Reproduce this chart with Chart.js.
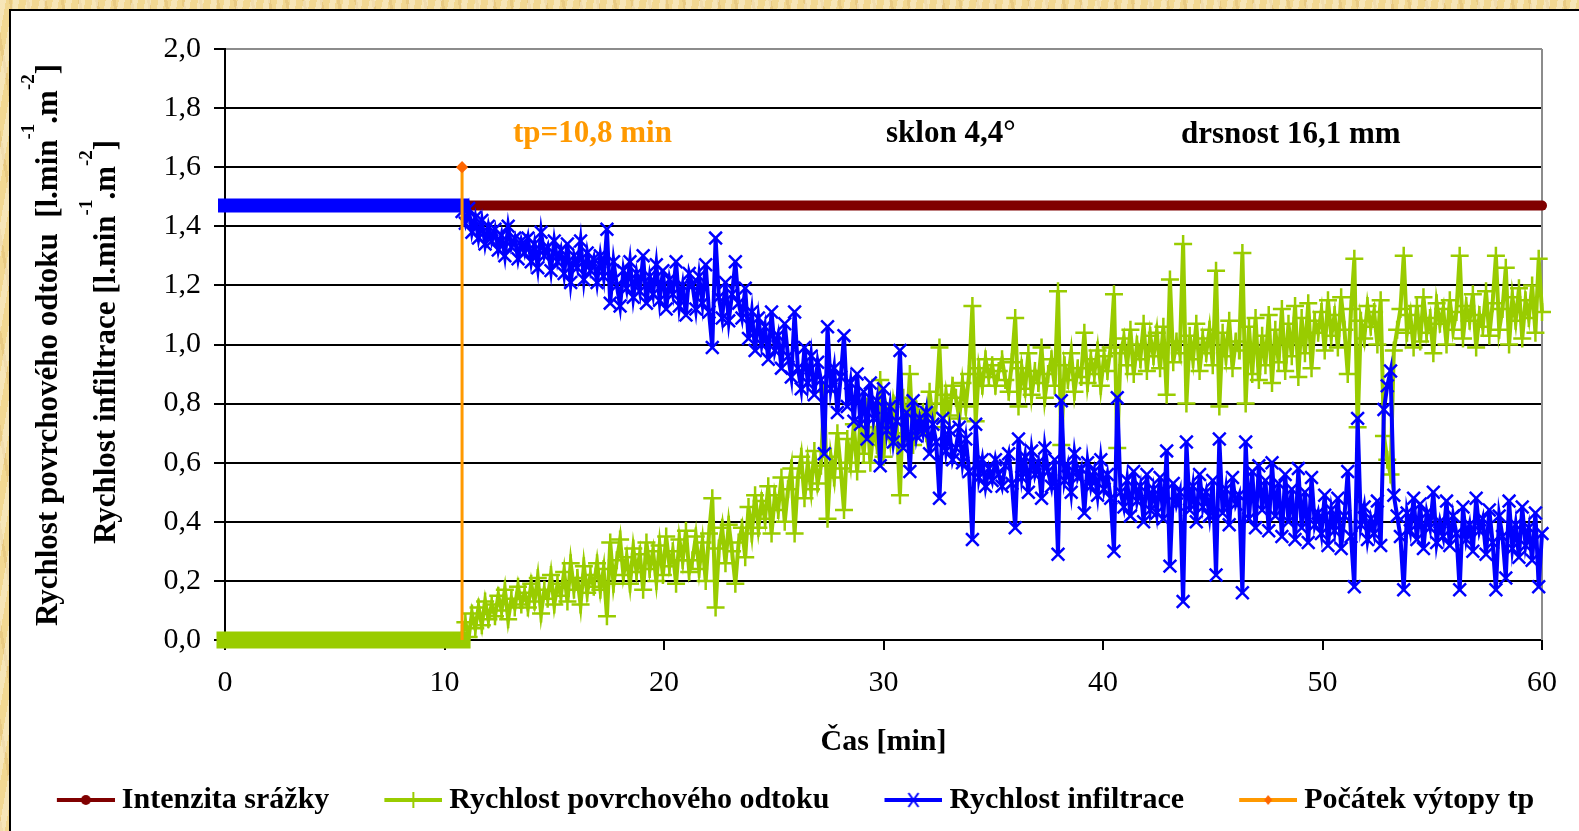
<!DOCTYPE html>
<html lang="cs">
<head>
<meta charset="utf-8">
<title>Rychlost povrchového odtoku a infiltrace</title>
<script src="https://cdn.jsdelivr.net/npm/chart.js@4.4.1/dist/chart.umd.min.js"></script>
<style>
    html, body { margin: 0; padding: 0; width: 1579px; height: 831px; overflow: hidden; }
    body {
        background-color: #f2d892;
        background-image:
            repeating-linear-gradient(100deg, rgba(255,255,255,0.35) 0 6px, rgba(255,255,255,0) 6px 13px),
            repeating-linear-gradient(80deg, rgba(190,140,60,0.18) 0 3px, rgba(190,140,60,0) 3px 17px);
    }
    #panel { position: absolute; left: 9px; top: 9px; right: 0; bottom: 0; background: #fff; border-left: 2px solid #000; border-top: 2px solid #000; }
    #wrap { position: absolute; left: 0; top: 0; width: 1579px; height: 831px; }
</style>
</head>
<body>
<div id="panel"></div>
<div id="wrap"><canvas id="chart" width="1579" height="831"></canvas></div>
<script>
// čas počátku výtopy a krok měření po něm [min]
const tp = 10.8;
const dt = 0.15;
const tpMarkerTop = 1.6;

// intenzita srážky
const rainTime = [0, 60];
const rainRate = [1.47, 1.47];

// před počátkem výtopy (vše infiltruje)
const preTime = [0, 10.8];
const preRunoff = [0, 0];
const preInfiltration = [1.47, 1.47];

// rychlost povrchového odtoku od tp, krok dt
const runoff = [
    0.02, 0.06, 0.01, 0.09, 0.04, 0.11, 0.05, 0.13, 0.07, 0.12,
    0.08, 0.15, 0.10, 0.17, 0.07, 0.14, 0.11, 0.18, 0.12, 0.16,
    0.11, 0.19, 0.13, 0.21, 0.09, 0.17, 0.14, 0.22, 0.12, 0.19,
    0.15, 0.23, 0.13, 0.26, 0.17, 0.21, 0.12, 0.25, 0.16, 0.22,
    0.18, 0.26, 0.17, 0.24, 0.08, 0.33, 0.19, 0.27, 0.34, 0.22,
    0.28, 0.19, 0.31, 0.23, 0.29, 0.17, 0.33, 0.24, 0.30, 0.20,
    0.32, 0.22, 0.35, 0.25, 0.30, 0.19, 0.34, 0.27, 0.37, 0.23,
    0.27, 0.35, 0.24, 0.33, 0.20, 0.36, 0.48, 0.11, 0.31, 0.38,
    0.26, 0.39, 0.30, 0.19, 0.33, 0.38, 0.28, 0.45, 0.36, 0.49,
    0.38, 0.47, 0.41, 0.52, 0.36, 0.49, 0.44, 0.55, 0.40, 0.51,
    0.58, 0.36, 0.55, 0.62, 0.48, 0.60, 0.51, 0.64, 0.53, 0.59,
    0.84, 0.41, 0.62, 0.55, 0.70, 0.58, 0.44, 0.68, 0.60, 0.73,
    0.57, 0.74, 0.63, 0.79, 0.60, 0.72, 0.66, 0.88, 0.62, 0.76,
    0.68, 0.80, 0.73, 0.49, 0.82, 0.70, 0.90, 0.66, 0.78, 0.72,
    0.77, 0.70, 0.84, 0.74, 0.80, 0.99, 0.72, 0.83, 0.76, 0.86,
    0.82, 0.75, 0.87, 0.79, 0.90, 1.13, 0.74, 0.92, 0.86, 0.95,
    0.89, 0.93, 0.86, 0.91, 0.95, 0.88, 0.84, 0.94, 1.09, 0.79,
    0.92, 0.85, 0.97, 0.83, 0.91, 0.87, 0.99, 0.82, 0.90, 0.95,
    0.86, 1.18, 0.66, 0.93, 0.88, 0.97, 0.84, 0.92, 0.89, 1.04,
    0.87, 0.95, 0.90, 0.98, 0.86, 0.96, 0.91, 0.99, 1.17, 0.65,
    0.97, 1.02, 0.93, 1.05, 0.90, 1.00, 0.95, 1.07, 0.91, 1.03,
    0.96, 1.04, 0.92, 1.06, 0.83, 1.22, 0.94, 1.01, 0.97, 1.34,
    0.80, 1.03, 0.95, 1.07, 0.91, 1.02, 0.97, 1.05, 0.93, 1.25,
    0.79, 1.04, 0.96, 1.08, 0.92, 1.01, 0.98, 1.31, 0.80, 1.06,
    0.90, 1.09, 0.88, 1.03, 0.93, 1.10, 0.87, 1.05, 0.94, 1.12,
    0.91, 1.07, 0.96, 1.13, 0.89, 1.09, 0.97, 1.14, 0.92, 1.08,
    1.04, 1.11, 0.98, 1.15, 1.03, 1.10, 0.99, 1.16, 1.05, 0.90,
    1.12, 1.29, 0.72, 1.08, 1.02, 1.13, 1.06, 1.11, 1.00, 1.15,
    0.69, 0.61, 0.56, 0.98, 1.05, 1.12, 1.30, 1.04, 1.10, 0.99,
    1.13, 1.01, 1.16, 1.04, 1.09, 0.97, 1.14, 1.07, 1.12, 1.00,
    1.15, 1.05, 1.11, 1.30, 1.02, 1.13, 1.08, 1.17, 0.99, 1.10,
    1.06, 1.18, 1.03, 1.14, 1.30, 1.05, 1.12, 1.26, 1.00, 1.16,
    1.08, 1.19, 1.02, 1.15, 1.09, 1.20, 1.04, 1.29, 1.11
];

// rychlost infiltrace od tp, krok dt
const infiltration = [
    1.45, 1.41, 1.46, 1.38, 1.43, 1.36, 1.42, 1.34, 1.40, 1.35,
    1.39, 1.32, 1.37, 1.30, 1.40, 1.33, 1.36, 1.29, 1.35, 1.31,
    1.36, 1.28, 1.34, 1.26, 1.38, 1.30, 1.33, 1.25, 1.35, 1.28,
    1.32, 1.24, 1.34, 1.21, 1.30, 1.26, 1.35, 1.22, 1.31, 1.25,
    1.29, 1.21, 1.30, 1.23, 1.39, 1.14, 1.28, 1.20, 1.13, 1.25,
    1.19, 1.28, 1.16, 1.24, 1.18, 1.30, 1.14, 1.23, 1.17, 1.27,
    1.15, 1.25, 1.12, 1.22, 1.17, 1.28, 1.13, 1.20, 1.10, 1.24,
    1.20, 1.12, 1.23, 1.14, 1.27, 1.11, 0.99, 1.36, 1.16, 1.09,
    1.21, 1.08, 1.17, 1.28, 1.14, 1.09, 1.19, 1.02, 1.11, 0.98,
    1.09, 1.00, 1.06, 0.95, 1.11, 0.98, 1.03, 0.92, 1.07, 0.96,
    0.89, 1.11, 0.92, 0.85, 0.99, 0.87, 0.96, 0.83, 0.94, 0.88,
    0.63, 1.06, 0.85, 0.92, 0.77, 0.89, 1.03, 0.79, 0.87, 0.74,
    0.90, 0.73, 0.84, 0.68, 0.87, 0.75, 0.81, 0.59, 0.85, 0.71,
    0.79, 0.67, 0.74, 0.98, 0.65, 0.77, 0.57, 0.81, 0.69, 0.75,
    0.70, 0.77, 0.63, 0.73, 0.67, 0.48, 0.75, 0.64, 0.71, 0.61,
    0.65, 0.72, 0.60, 0.68, 0.57, 0.34, 0.73, 0.55, 0.61, 0.52,
    0.58, 0.54, 0.61, 0.56, 0.52, 0.59, 0.63, 0.53, 0.38, 0.68,
    0.55, 0.62, 0.50, 0.64, 0.56, 0.60, 0.48, 0.65, 0.57, 0.52,
    0.61, 0.29, 0.81, 0.54, 0.59, 0.50, 0.63, 0.55, 0.58, 0.43,
    0.60, 0.52, 0.57, 0.49, 0.61, 0.51, 0.56, 0.48, 0.30, 0.82,
    0.50, 0.45, 0.54, 0.42, 0.57, 0.47, 0.52, 0.40, 0.56, 0.44,
    0.51, 0.43, 0.55, 0.41, 0.64, 0.25, 0.53, 0.46, 0.50, 0.13,
    0.67, 0.44, 0.52, 0.40, 0.56, 0.45, 0.50, 0.42, 0.54, 0.22,
    0.68, 0.43, 0.51, 0.39, 0.55, 0.46, 0.49, 0.16, 0.67, 0.41,
    0.57, 0.38, 0.59, 0.44, 0.54, 0.37, 0.60, 0.42, 0.53, 0.35,
    0.56, 0.40, 0.51, 0.34, 0.58, 0.38, 0.50, 0.33, 0.55, 0.39,
    0.43, 0.36, 0.49, 0.32, 0.44, 0.37, 0.48, 0.31, 0.42, 0.57,
    0.35, 0.18, 0.75, 0.39, 0.45, 0.34, 0.41, 0.36, 0.47, 0.32,
    0.78, 0.86, 0.91, 0.49, 0.42, 0.35, 0.17, 0.43, 0.37, 0.48,
    0.34, 0.46, 0.31, 0.43, 0.38, 0.50, 0.33, 0.40, 0.35, 0.47,
    0.32, 0.42, 0.36, 0.17, 0.45, 0.34, 0.39, 0.30, 0.48, 0.37,
    0.41, 0.29, 0.44, 0.33, 0.17, 0.42, 0.35, 0.21, 0.47, 0.31,
    0.39, 0.28, 0.45, 0.32, 0.38, 0.27, 0.43, 0.18, 0.36
];

const xTicks = [0, 10, 20, 30, 40, 50, 60];

const FONT = "'Liberation Serif', 'Times New Roman', serif";
const GREEN = '#99cc00';
const BLUE = '#0000ff';
const RED = '#800000';
const ORANGE = '#ff9900';

const times = runoff.map((v, i) => +(tp + i * dt).toFixed(2));
const pts = (xs, ys) => xs.map((x, i) => ({ x: x, y: ys[i] }));

// malé obrázky čára + značka pro legendu (vzorek je v pravé části obrázku)
function legendIcon(color, marker, markerColor) {
    const c = document.createElement('canvas');
    c.width = 115;
    c.height = 20;
    const g = c.getContext('2d');
    g.strokeStyle = color;
    g.lineWidth = 4;
    g.beginPath();
    g.moveTo(57, 10);
    g.lineTo(115, 10);
    g.stroke();
    const cx = 86, cy = 10;
    g.strokeStyle = markerColor || color;
    g.fillStyle = markerColor || color;
    g.lineWidth = 2;
    g.beginPath();
    if (marker === 'circle') {
        g.arc(cx, cy, 5, 0, Math.PI * 2);
        g.fill();
    } else if (marker === 'cross') {
        g.moveTo(cx, cy - 8); g.lineTo(cx, cy + 8);
        g.stroke();
    } else if (marker === 'crossRot') {
        g.moveTo(cx - 5, cy - 7); g.lineTo(cx + 5, cy + 7);
        g.moveTo(cx + 5, cy - 7); g.lineTo(cx - 5, cy + 7);
        g.stroke();
    } else if (marker === 'diamond') {
        g.moveTo(cx, cy - 5); g.lineTo(cx + 4, cy); g.lineTo(cx, cy + 5); g.lineTo(cx - 4, cy);
        g.closePath();
        g.fill();
    }
    return c;
}

const icons = {
    0: legendIcon(RED, 'circle'),
    2: legendIcon(GREEN, 'cross'),
    4: legendIcon(BLUE, 'crossRot'),
    5: legendIcon(ORANGE, 'diamond', '#ff6600')
};
const legendOrder = [0, 2, 4, 5];

function drawRich(ctx, parts, x, y, size, supSize, supShift) {
    ctx.save();
    ctx.translate(x, y);
    ctx.rotate(-Math.PI / 2);
    ctx.textBaseline = 'alphabetic';
    ctx.textAlign = 'left';
    let total = 0;
    parts.forEach(p => {
        ctx.font = 'bold ' + (p.sup ? supSize : size) + 'px ' + FONT;
        total += ctx.measureText(p.t).width;
    });
    let pos = -total / 2;
    parts.forEach(p => {
        ctx.font = 'bold ' + (p.sup ? supSize : size) + 'px ' + FONT;
        ctx.fillText(p.t, pos, p.sup ? -supShift : 0);
        pos += ctx.measureText(p.t).width;
    });
    ctx.restore();
}

const textsPlugin = {
    id: 'texts',
    beforeDatasetsDraw(chart) {
        const { ctx, chartArea } = chart;
        ctx.save();
        ctx.strokeStyle = '#8c8c8c';
        ctx.lineWidth = 2;
        ctx.beginPath();
        ctx.moveTo(chartArea.right, chartArea.top);
        ctx.lineTo(chartArea.right, chartArea.bottom);
        ctx.stroke();
        ctx.restore();
    },
    afterDraw(chart) {
        const ctx = chart.ctx;
        ctx.save();
        ctx.fillStyle = '#000';
        const unit = [{ t: '[l.min' }, { t: '-1', sup: true }, { t: '.m' }, { t: '-2', sup: true }, { t: ']' }];
        drawRich(ctx, [{ t: 'Rychlost povrchového odtoku  ' }].concat(unit), 57, 345, 31, 19, 23);
        drawRich(ctx, [{ t: 'Rychlost infiltrace ' }].concat(unit), 115, 342, 31, 19, 23);

        ctx.textBaseline = 'alphabetic';
        ctx.textAlign = 'left';
        ctx.font = 'bold 31px ' + FONT;
        ctx.fillStyle = ORANGE;
        ctx.fillText('tp=10,8 min', 513, 142);
        ctx.fillStyle = '#000';
        ctx.fillText('sklon 4,4°', 886, 142);
        ctx.fillText('drsnost 16,1 mm', 1181, 143);
        ctx.restore();
    }
};

new Chart(document.getElementById('chart'), {
    type: 'line',
    data: {
        datasets: [
            {
                label: 'Intenzita srážky',
                data: pts(rainTime, rainRate),
                borderColor: RED,
                borderWidth: 10,
                borderCapStyle: 'round',
                pointRadius: 0,
                order: 5,
                clip: false
            },
            {
                label: 'odtok před tp',
                data: pts(preTime, preRunoff),
                borderColor: GREEN,
                borderWidth: 17,
                borderCapStyle: 'square',
                pointRadius: 0,
                order: 4,
                clip: false
            },
            {
                label: 'Rychlost povrchového odtoku',
                data: pts(times, runoff),
                borderColor: GREEN,
                borderWidth: 4,
                pointStyle: 'cross',
                pointRadius: 9,
                pointBorderWidth: 2.5,
                pointBorderColor: GREEN,
                order: 3,
                clip: false
            },
            {
                label: 'infiltrace před tp',
                data: pts(preTime, preInfiltration),
                borderColor: BLUE,
                borderWidth: 14,
                borderCapStyle: 'square',
                pointRadius: 0,
                order: 2,
                clip: false
            },
            {
                label: 'Rychlost infiltrace',
                data: pts(times, infiltration),
                borderColor: BLUE,
                borderWidth: 4,
                pointStyle: 'crossRot',
                pointRadius: 9,
                pointBorderWidth: 2.5,
                pointBorderColor: BLUE,
                order: 1,
                clip: false
            },
            {
                label: 'Počátek výtopy tp',
                data: [{ x: tp, y: 0 }, { x: tp, y: tpMarkerTop }],
                borderColor: ORANGE,
                borderWidth: 3,
                pointStyle: 'rectRot',
                pointRadius: c => (c.dataIndex === 1 ? 4 : 0),
                pointBackgroundColor: '#ff6600',
                pointBorderColor: '#ff6600',
                order: 0,
                clip: false
            }
        ]
    },
    options: {
        responsive: false,
        animation: false,
        layout: { padding: { left: 0, top: 49, right: 37, bottom: 6 } },
        elements: { line: { tension: 0 } },
        scales: {
            x: {
                type: 'linear',
                min: 0,
                max: 60,
                afterFit: s => { s.height = 139; },
                afterBuildTicks: s => { s.ticks = xTicks.map(v => ({ value: v })); },
                ticks: { color: '#000', font: { family: FONT, size: 30 }, padding: 15 },
                grid: { drawOnChartArea: false, color: '#000', lineWidth: 2, tickLength: 10 },
                border: { color: '#000', width: 2 },
                title: {
                    display: true,
                    text: 'Čas [min]',
                    color: '#000',
                    font: { family: FONT, size: 30, weight: 'bold' },
                    padding: { top: 0, bottom: 19 }
                }
            },
            y: {
                min: 0,
                max: 2,
                afterFit: s => { s.width = 225; },
                ticks: {
                    stepSize: 0.2,
                    color: '#000',
                    font: { family: FONT, size: 30 },
                    padding: 13,
                    callback: v => v.toFixed(1).replace('.', ',')
                },
                grid: {
                    color: c => (c.tick && c.tick.value >= 2 ? '#8c8c8c' : '#000'),
                    tickColor: '#000',
                    lineWidth: 2,
                    tickLength: 11
                },
                border: { color: '#000', width: 2 }
            }
        },
        plugins: {
            tooltip: { enabled: false },
            legend: {
                position: 'bottom',
                labels: {
                    color: '#000',
                    font: { family: FONT, size: 30, weight: 'bold' },
                    usePointStyle: true,
                    pointStyleWidth: 99,
                    padding: 6,
                    generateLabels: chart => legendOrder.map(i => ({
                        text: chart.data.datasets[i].label,
                        pointStyle: icons[i],
                        datasetIndex: i,
                        hidden: false,
                        lineWidth: 0
                    }))
                }
            }
        }
    },
    plugins: [textsPlugin]
});
</script>
</body>
</html>
